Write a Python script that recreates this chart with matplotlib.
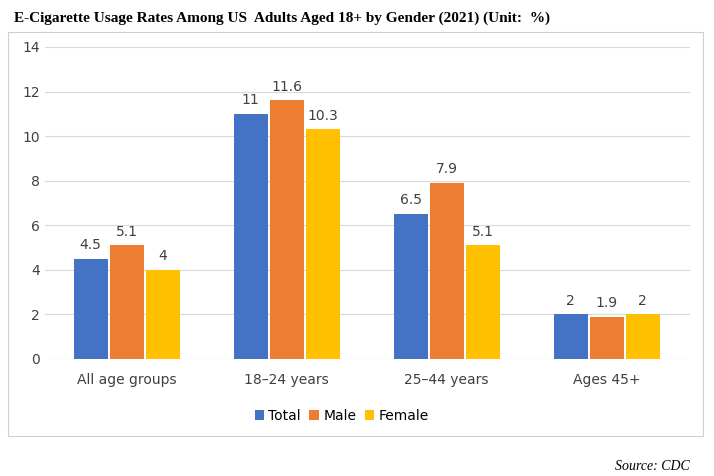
import numpy as np
import matplotlib.pyplot as plt
from matplotlib.patches import Rectangle

categories = ['All age groups', '18\u201324 years', '25\u201344 years', 'Ages 45+']
total = [4.5, 11, 6.5, 2]
male = [5.1, 11.6, 7.9, 1.9]
female = [4, 10.3, 5.1, 2]
series = [('Total', total, '#4472C4'), ('Male', male, '#ED7D31'), ('Female', female, '#FFC000')]

fig = plt.figure(figsize=(7.14, 4.76), dpi=100)
fig.patches.append(Rectangle((8/714, 1-436/476), 695/714, 404/476, transform=fig.transFigure,
                             fill=False, edgecolor='#d0d0d0', linewidth=0.8))
ax = fig.add_axes([45/714, 1-359/476, 645/714, 312/476])

x = np.arange(len(categories))
w = 0.2125
for i, (name, vals, col) in enumerate(series):
    pos = x + (i - 1) * 0.225
    ax.bar(pos, vals, w, color=col, label=name, zorder=3)
    for p, v in zip(pos, vals):
        ax.text(p, v + 0.3, f'{v:g}', ha='center', va='bottom', fontsize=10, color='#404040')

ax.set_xlim(-0.51, 3.52)
ax.set_ylim(0, 14)
ax.set_yticks(range(0, 15, 2))
ax.yaxis.grid(True, color='#d9d9d9', linewidth=0.8, zorder=0)
ax.set_xticks(x)
ax.set_xticklabels(categories)
ax.tick_params(length=0, labelsize=10, colors='#404040')
ax.tick_params(axis='x', pad=10)
for s in ax.spines.values():
    s.set_visible(False)
ax.axhline(0, color='#d9d9d9', linewidth=0.8)

ax.legend(loc='upper center', bbox_to_anchor=(0.46, -0.12), ncol=3, frameon=False,
          fontsize=10, handlelength=0.7, handleheight=0.7, columnspacing=0.6, handletextpad=0.3)

fig.text(14/714, 1-18/476, 'E-Cigarette Usage Rates Among US  Adults Aged 18+ by Gender (2021) (Unit:  %)',
         fontsize=11, fontweight='bold', family='Liberation Serif', va='center')
fig.text(690/714, 1-466/476, 'Source: CDC', fontsize=10, style='italic', family='Liberation Serif',
         ha='right', va='center')

fig.savefig('out.png', dpi=100)
